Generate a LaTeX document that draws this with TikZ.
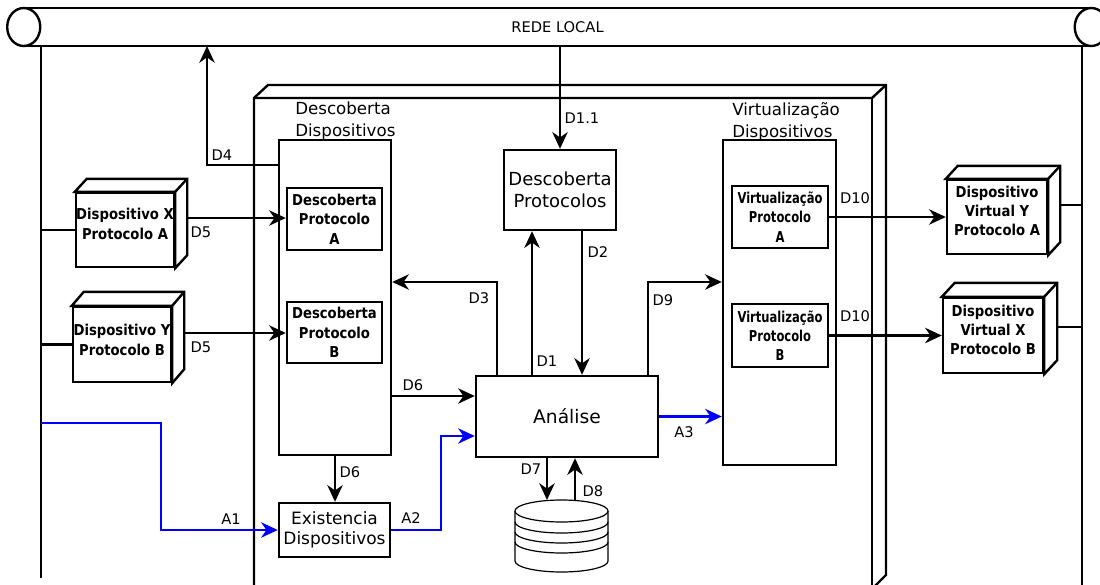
\documentclass[tikz,border=0pt]{standalone}
\usepackage{fontspec}
\setmainfont{DejaVu Sans}
\newfontfamily\boxfont{DejaVu Sans}[FakeStretch=0.88]
\newfontfamily\narrowfont{DejaVu Sans}[FakeStretch=0.77]
\usetikzlibrary{arrows.meta,calc}
\definecolor{netblue}{RGB}{0,0,255}

% back and side faces of a 3D box drawn behind a front node
\newcommand\cubeside[3]{%
  \draw[ln,fill=white] (#1.north west) -- ++(#2,#3) -- ($(#1.north east)+(#2,#3)$)
    -- ($(#1.south east)+(#2,#3)$) -- (#1.south east) -- (#1.north east) -- cycle;
  \draw[ln] (#1.north east) -- ++(#2,#3);}

\begin{document}
\begin{tikzpicture}[x=0.75pt,y=-0.75pt,
  ln/.style={line width=1.8pt},
  arr/.style={ln,-{Stealth[length=12.5pt,width=11.5pt,inset=4pt]}},
  blu/.style={arr,draw=netblue},
  wh/.style 2 args={minimum width=#1*0.75pt,minimum height=#2*0.75pt},
  box/.style={draw,line width=1.8pt,fill=white,inner sep=0pt,align=center},
  small/.style={box,font=\boxfont\bfseries\fontsize{11.25}{14.5}\selectfont},
  narrow/.style={box,font=\narrowfont\bfseries\fontsize{11.25}{14.5}\selectfont},
  cubetext/.style={inner sep=0pt,align=center,font=\boxfont\bfseries\fontsize{11.25}{14.5}\selectfont},
  big/.style={box,font=\fontsize{13.5}{16.5}\selectfont},
  grouplbl/.style={inner sep=0pt,align=left,anchor=north west,font=\fontsize{12.5}{16.5}\selectfont},
  lbl/.style={inner sep=0pt,font=\fontsize{11}{13}\selectfont},
]
\useasboundingbox (0,0) rectangle (1100,585);

% network drops
\draw[ln] (41,46) -- (41,578);
\draw[ln] (1082,46) -- (1082,590);

% system container
\draw[ln,fill=white] (254,600) -- (254,98) -- (268,85) -- (886,85) -- (886,575) -- (872,589) -- (872,600);
\draw[ln] (254,98) -- (872,98) -- (886,85);
\draw[ln] (872,98) -- (872,600);

% local network bus
\node[inner sep=0pt,wh={1067}{38},font=\fontsize{11}{13}\selectfont] (bus) at (557.5,27) {REDE LOCAL};
\draw[ln] (bus.north west) -- (bus.north east) (bus.south west) -- (bus.south east);
\draw[ln,fill=white] (bus.west) ellipse[x radius=12.4pt,y radius=14.25pt];
\draw[ln,fill=white] (bus.east) ellipse[x radius=12.4pt,y radius=14.25pt];

% discovery group
\node[box,wh={112}{315}] (ddisp) at (335,297.5) {};
\node[grouplbl] (ddlbl) at (295,102) {Descoberta\\Dispositivos};
\node[small,wh={95}{62}] (dpa) at (334.5,219) {Descoberta\\Protocolo\\A};
\node[small,wh={95}{61}] (dpb) at (334.5,332.5) {Descoberta\\Protocolo\\B};

% virtualization group
\node[box,wh={113}{325}] (vdisp) at (779.5,302.5) {};
\node[grouplbl] (vdlbl) at (732,102) {Virtualização\\Dispositivos};
\node[narrow,wh={96}{62}] (vpa) at (780,217) {Virtualização\\Protocolo\\A};
\node[narrow,wh={96}{63}] (vpb) at (780,335.5) {Virtualização\\Protocolo\\B};

% central blocks
\node[big,wh={112}{80}] (dprot) at (560,190) {Descoberta\\Protocolos};
\node[box,wh={182}{81},font=\fontsize{14}{16}\selectfont] (ana) at (567,416.5) {Análise};
\node[box,wh={111}{54},font=\fontsize{12.75}{15}\selectfont] (exist) at (334.5,530) {Existencia\\Dispositivos};

% physical devices
\node[box,wh={98}{74}] (devX) at (125,230) {};
\cubeside{devX}{12}{-13}
\node[cubetext] (devXt) at (125,224) {Dispositivo X\\Protocolo A};
\node[box,wh={98}{75}] (devY) at (122,344.5) {};
\cubeside{devY}{12}{-14}
\node[cubetext] (devYt) at (122,340) {Dispositivo Y\\Protocolo B};

% virtual devices
\node[box,wh={100}{74}] (vY) at (997,217) {};
\cubeside{vY}{12}{-13}
\node[cubetext] (vYt) at (997,211) {Dispositivo\\Virtual Y\\Protocolo A};
\node[box,wh={100}{75}] (vX) at (993,335.5) {};
\cubeside{vX}{13}{-14}
\node[cubetext] (vXt) at (993,330) {Dispositivo\\Virtual X\\Protocolo B};

% database
\begin{scope}[line width=0.9pt]
  \draw[fill=white] (515,511) -- (515,561) arc[start angle=180,end angle=360,x radius=34.9pt,y radius=8.25pt] -- (608,511);
  \draw[fill=white] (561.5,511) ellipse[x radius=34.9pt,y radius=8.25pt];
  \foreach \yy in {522,532,542}
    \draw (515,\yy) arc[start angle=180,end angle=360,x radius=34.9pt,y radius=8.25pt];
\end{scope}
\coordinate (db) at (561.5,500);

% device attachments to the network
\draw[ln] (41,0 |- devX.west) -- (devX.west);
\draw[ln] (41,0 |- devY.west) -- (devY.west);
\draw[ln] (1059,205) -- (1082,205);
\draw[ln] (1056,327) -- (1082,327);

% data flows
\coordinate (d4up) at (207,46);
\draw[arr] ($(ddisp.north west)+(0,26)$) -| (d4up);
\node[lbl] (l4) at (222,155) {D4};

\draw[arr] (186,218) -- (dpa.west |- 0,218);
\node[lbl] (l5a) at (201,232) {D5};
\draw[arr] (184,333) -- (dpb.west |- 0,333);
\node[lbl] (l5b) at (201,347) {D5};

\draw[arr] (bus.south -| dprot.north) -- (dprot.north);
\node[lbl] (l11) at (582,118) {D1.1};

\draw[arr] (532,0 |- ana.north) -- (532,0 |- dprot.south);
\node[lbl] (l1) at (547,361) {D1};
\draw[arr] (582,0 |- dprot.south) -- (582,0 |- ana.north);
\node[lbl] (l2) at (598,252) {D2};

\draw[arr] (497,0 |- ana.north) |- (ddisp.east |- 0,282);
\node[lbl] (l3) at (479,298) {D3};
\draw[arr] (648,0 |- ana.north) |- (vdisp.west |- 0,282);
\node[lbl] (l9) at (663,300) {D9};

\draw[arr] (ddisp.east |- 0,396) -- (ana.west |- 0,396);
\node[lbl] (l6a) at (413,385) {D6};
\draw[arr] (335,0 |- ddisp.south) -- (335,0 |- exist.north);
\node[lbl] (l6b) at (350,472) {D6};

\draw[arr] (547,0 |- ana.south) -- (547,0 |- db);
\node[lbl] (l7) at (531,469) {D7};
\draw[arr] (575,0 |- db) -- (575,0 |- ana.south);
\node[lbl] (l8) at (593,491) {D8};

\draw[arr] (vpa.east) -- (vY.west |- vpa.east);
\node[lbl] (l10a) at (855,198) {D10};
\draw[arr] (vpb.east) -- (vX.west |- vpb.east);
\node[lbl] (l10b) at (855,316) {D10};

% presence flows
\coordinate (a1s) at (41,423);
\draw[blu] (a1s) -| (161,0 |- exist.west) -- (exist.west);
\node[lbl] (la1) at (231,519) {A1};
\draw[blu] (exist.east) -| (441,436) -- (ana.west |- 0,436);
\node[lbl] (la2) at (411,518) {A2};
\draw[blu] (ana.east) -- (vdisp.west |- ana.east);
\node[lbl] (la3) at (684,432) {A3};
\end{tikzpicture}
\end{document}
